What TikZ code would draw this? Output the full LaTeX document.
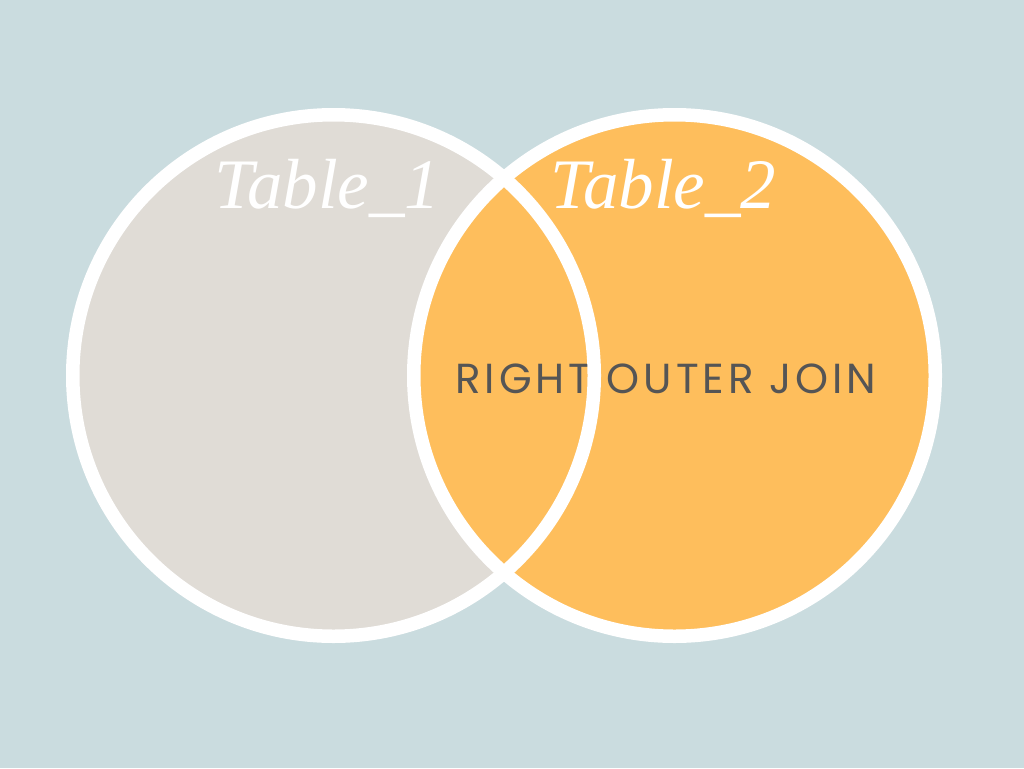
\documentclass[tikz,border=0pt]{standalone}
\usepackage{fontspec}
\newfontfamily\titlefont{Liberation Serif}
\newfontfamily\joinfont[LetterSpace=9.5]{Poppins}
\definecolor{bgblue}{HTML}{CADCDF}
\definecolor{setgray}{HTML}{E0DCD6}
\definecolor{setorange}{HTML}{FEBE5C}
\definecolor{textgray}{HTML}{555555}
\tikzset{
  setring/.style={draw=white, line width=13.5pt},
  tablelabel/.style={anchor=base west, inner sep=0pt, text=white, font=\titlefont\itshape\fontsize{71}{71}\selectfont},
  joinlabel/.style={anchor=base west, inner sep=0pt, text=textgray, font=\joinfont\fontsize{42}{42}\selectfont}
}
\begin{document}
\begin{tikzpicture}[x=1pt,y=-1pt]
\fill[bgblue] (0,0) rectangle (1024,768);
\useasboundingbox (0,0) rectangle (1024,768);
\coordinate (cl) at (333.5,375.5);
\coordinate (cr) at (674.5,375.5);
\fill[setgray] (cl) circle[radius=260.75pt];
\fill[setorange] (cr) circle[radius=260.75pt];
\node[tablelabel] (t1) at (214,208) {Table\_1};
\node[tablelabel] (t2) at (550,208) {Table\_2};
\node[joinlabel] (rj) at (455,393) {RIGHT OUTER JOIN};
\draw[setring] (cl) circle[radius=260.75pt];
\draw[setring] (cr) circle[radius=260.75pt];
\end{tikzpicture}
\end{document}
